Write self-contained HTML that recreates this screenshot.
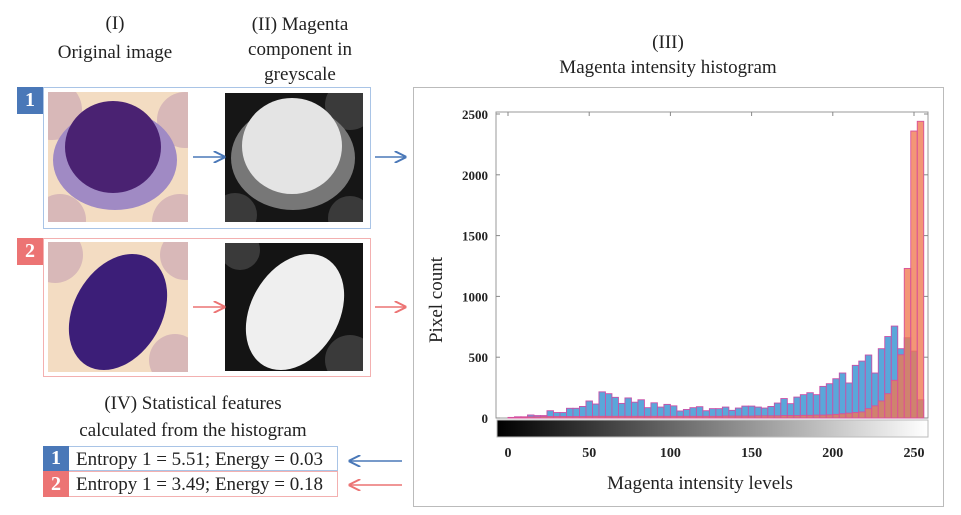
<!DOCTYPE html>
<html><head><meta charset="utf-8"><style>
body{margin:0;width:961px;height:515px;background:#fff;position:relative;overflow:hidden;font-family:"Liberation Serif",serif;color:#222}
.t{position:absolute;font-size:19px;text-align:center;white-space:nowrap;line-height:1}
.box{position:absolute;box-sizing:border-box}
.badge{position:absolute;color:#fff;font-weight:bold;font-size:20px;text-align:center;line-height:27px;width:26px;height:27px}
</style></head><body>
<div class="t" style="left:15px;top:9px;width:200px;line-height:29px">(I)<br>Original image</div>
<div class="t" style="left:200px;top:12px;width:200px;line-height:25px">(II) Magenta<br>component in<br>greyscale</div>
<div class="t" style="left:518px;top:30px;width:300px;line-height:25px">(III)<br>Magenta intensity histogram</div>

<div class="box" style="left:43px;top:87px;width:328px;height:142px;border:1px solid #a9c4e6"></div>
<div class="badge" style="left:17px;top:87px;background:#4a78b8">1</div>
<div class="box" style="left:43px;top:238px;width:328px;height:139px;border:1px solid #f3b0b0"></div>
<div class="badge" style="left:17px;top:238px;background:#ec7474">2</div>

<svg width="961" height="515" style="position:absolute;left:0;top:0">
<defs>
<radialGradient id="rbc" cx="50%" cy="50%" r="50%"><stop offset="0" stop-color="#d6b4b6"/><stop offset="1" stop-color="#d9b7b8"/></radialGradient>
<marker id="ab" markerWidth="8" markerHeight="8" refX="7" refY="4" orient="auto"><path d="M0,0 L8,4 L0,8" fill="none" stroke="#4a78b8" stroke-width="1.3"/></marker>
<marker id="ar" markerWidth="8" markerHeight="8" refX="7" refY="4" orient="auto"><path d="M0,0 L8,4 L0,8" fill="none" stroke="#ec7474" stroke-width="1.3"/></marker>
<clipPath id="c1"><rect x="48" y="92" width="140" height="130"/></clipPath>
<clipPath id="c2"><rect x="48" y="242" width="140" height="130"/></clipPath>
<clipPath id="c3"><rect x="225" y="93" width="138" height="129"/></clipPath>
<clipPath id="c4"><rect x="225" y="243" width="138" height="128"/></clipPath>
</defs>
<g clip-path="url(#c1)">
<rect x="48" y="92" width="140" height="130" fill="#f3dcc2"/>
<circle cx="52" cy="110" r="30" fill="#d8b8b8"/><circle cx="185" cy="120" r="28" fill="#d8b8b8"/><circle cx="60" cy="220" r="26" fill="#d8b8b8"/><circle cx="180" cy="222" r="28" fill="#d8b8b8"/>
<ellipse cx="115" cy="160" rx="62" ry="50" fill="#a08ac4"/>
<ellipse cx="113" cy="147" rx="48" ry="46" fill="#4a2272"/>
</g>
<g clip-path="url(#c3)">
<rect x="225" y="93" width="138" height="129" fill="#161616"/>
<circle cx="350" cy="105" r="25" fill="#3a3a3a"/><circle cx="235" cy="215" r="22" fill="#3a3a3a"/><circle cx="350" cy="218" r="22" fill="#3a3a3a"/>
<ellipse cx="293" cy="158" rx="62" ry="52" fill="#777"/>
<ellipse cx="292" cy="146" rx="50" ry="48" fill="#e4e4e4"/>
</g>
<g clip-path="url(#c2)">
<rect x="48" y="242" width="140" height="130" fill="#f3dcc2"/>
<circle cx="55" cy="255" r="28" fill="#d8b8b8"/><circle cx="185" cy="255" r="25" fill="#d8b8b8"/><circle cx="175" cy="360" r="26" fill="#d8b8b8"/>
<ellipse cx="118" cy="312" rx="44" ry="62" transform="rotate(30 118 312)" fill="#3c1e78"/>
</g>
<g clip-path="url(#c4)">
<rect x="225" y="243" width="138" height="128" fill="#141414"/>
<circle cx="240" cy="250" r="20" fill="#3a3a3a"/><circle cx="350" cy="360" r="25" fill="#3a3a3a"/>
<ellipse cx="295" cy="312" rx="44" ry="62" transform="rotate(30 295 312)" fill="#efefef"/>
</g>
<line x1="193" y1="157" x2="224" y2="157" stroke="#4a78b8" stroke-width="1.5" marker-end="url(#ab)"/>
<line x1="375" y1="157" x2="405" y2="157" stroke="#4a78b8" stroke-width="1.5" marker-end="url(#ab)"/>
<line x1="193" y1="307" x2="224" y2="307" stroke="#ec7474" stroke-width="1.5" marker-end="url(#ar)"/>
<line x1="375" y1="307" x2="405" y2="307" stroke="#ec7474" stroke-width="1.5" marker-end="url(#ar)"/>
<line x1="402" y1="461" x2="350" y2="461" stroke="#4a78b8" stroke-width="1.5" marker-end="url(#ab)"/>
<line x1="402" y1="485" x2="350" y2="485" stroke="#ec7474" stroke-width="1.5" marker-end="url(#ar)"/>
</svg>

<div class="t" style="left:43px;top:390px;width:300px;line-height:27px">(IV) Statistical features<br>calculated from the histogram</div>
<div class="box" style="left:43px;top:446px;width:295px;height:25px;border:1px solid #a9c4e6"></div>
<div class="badge" style="left:43px;top:446px;height:25px;line-height:25px;background:#4a78b8">1</div>
<div class="t" style="left:76px;top:450px">Entropy 1 = 5.51; Energy = 0.03</div>
<div class="box" style="left:43px;top:471px;width:295px;height:26px;border:1px solid #f3b0b0"></div>
<div class="badge" style="left:43px;top:471px;height:26px;line-height:26px;background:#ec7474">2</div>
<div class="t" style="left:76px;top:475px">Entropy 1 = 3.49; Energy = 0.18</div>

<div class="box" style="left:413px;top:87px;width:531px;height:420px;border:1px solid #bbb"></div>
<svg id="chart" width="961" height="515" style="position:absolute;left:0;top:0">
<defs><linearGradient id="gb" x1="0" x2="1"><stop offset="0" stop-color="#000"/><stop offset="1" stop-color="#fff"/></linearGradient></defs>
</svg>
<script>
const binStarts = [];
for (let i = 0; i < 64; i++) binStarts.push(i * 4);
const blueCounts = [5,10,10,25,20,20,60,45,45,80,80,95,140,115,215,200,170,120,165,130,150,85,125,90,112,100,58,70,85,93,60,77,77,90,63,82,98,98,90,82,95,123,160,118,172,192,208,192,260,282,323,370,288,433,468,518,370,570,670,756,570,660,550,150];
const redCounts = [3,5,8,10,10,12,12,12,12,12,12,12,14,14,14,14,14,14,14,14,14,14,14,14,14,14,14,14,14,14,14,14,14,16,16,16,16,16,18,18,18,18,20,20,20,22,22,24,24,26,30,35,40,45,50,77,100,140,200,310,520,1230,2360,2440];
const yTicks = [0,500,1000,1500,2000,2500];
const xTicks = [0,50,100,150,200,250];
const NS = 'http://www.w3.org/2000/svg';
const svg = document.getElementById('chart');
const X0 = 508, XS = 1.624, Y0 = 418, YS = 0.1216;
function xs(l){return X0 + l * XS;}
function ys(v){return Y0 - v * YS;}
function mk(tag, attrs){const e=document.createElementNS(NS,tag);for(const k in attrs)e.setAttribute(k,attrs[k]);svg.appendChild(e);return e;}
const frame = mk('rect',{x:496,y:112,width:432,height:306,fill:'none',stroke:'#999','stroke-width':1});


binStarts.forEach((l,i)=>{
  const b = mk('rect',{x:xs(l),y:ys(blueCounts[i]),width:4*XS,height:blueCounts[i]*YS,fill:'#5aa7da',stroke:'#c850a8','stroke-width':0.9});
  
  
});
binStarts.forEach((l,i)=>{
  const r = mk('rect',{x:xs(l),y:ys(redCounts[i]),width:4*XS,height:redCounts[i]*YS,fill:'rgba(240,120,80,0.78)',stroke:'#d9509a','stroke-width':0.9});
  
  
});
yTicks.forEach(v=>{
  const t = mk('text',{x:488,y:ys(v)+5,'text-anchor':'end','font-size':13,'font-weight':'bold','font-family':'Liberation Serif, serif',fill:'#222'});
  t.textContent = v;
  
  
  mk('line',{x1:496,x2:500,y1:ys(v),y2:ys(v),stroke:'#888'});
  mk('line',{x1:924,x2:928,y1:ys(v),y2:ys(v),stroke:'#888'});
});
const cb = mk('rect',{x:497,y:420,width:431,height:17,fill:'url(#gb)',stroke:'#bbb'});


xTicks.forEach(v=>{
  const t = mk('text',{x:xs(v),y:457,'text-anchor':'middle','font-size':14,'font-weight':'bold','font-family':'Liberation Serif, serif',fill:'#222'});
  t.textContent = v;
  
  
  mk('line',{x1:xs(v),x2:xs(v),y1:112,y2:116,stroke:'#888'});
});
const xt = mk('text',{x:700,y:489,'text-anchor':'middle','font-size':19,'font-family':'Liberation Serif, serif',fill:'#222'});
xt.textContent = 'Magenta intensity levels';


const yt = mk('text',{x:0,y:0,'text-anchor':'middle','font-size':19,'font-family':'Liberation Serif, serif',fill:'#222',transform:'translate(442 300) rotate(-90)'});
yt.textContent = 'Pixel count';


</script>
</body></html>
